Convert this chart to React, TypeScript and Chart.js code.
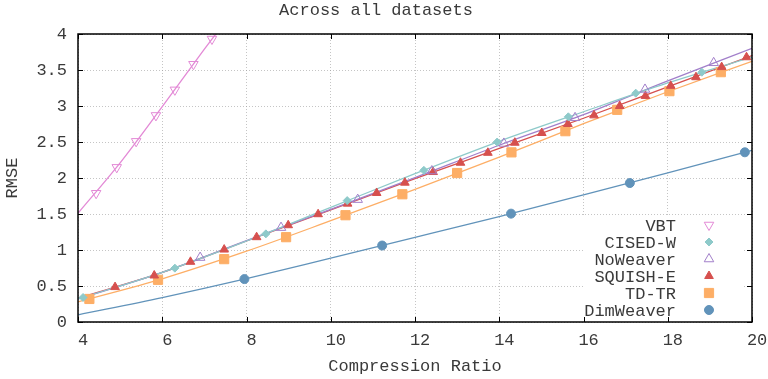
import React, { useEffect, useRef } from 'react';
import { Chart, registerables } from 'chart.js';
import { drawPoint } from 'chart.js/helpers';

Chart.register(...registerables);

const FONT = "'Liberation Mono', 'DejaVu Sans Mono', monospace";
const TEXT = '#3a3a3a';

const TITLE = 'Across all datasets';
const X_TITLE = 'Compression Ratio';
const Y_TITLE = 'RMSE';

// Smooth curves
const LINE_X = [4, 6, 8, 10, 12, 14, 16, 18, 20];
const dimLine = [0.1, 0.34, 0.603, 0.888, 1.175, 1.465, 1.765, 2.07, 2.384];
const tdtrLine = [0.28, 0.6, 0.983, 1.407, 1.842, 2.29, 2.754, 3.198, 3.62];
const squishLine = [0.33, 0.688, 1.125, 1.556, 1.99, 2.41, 2.83, 3.265, 3.7];
const noWeaverLine = [0.32, 0.69, 1.13, 1.565, 2.005, 2.455, 2.88, 3.35, 3.8];
const cisedLine = [0.32, 0.69, 1.125, 1.592, 2.06, 2.51, 2.92, 3.32, 3.68];
const VBT_LINE_X = [4, 5, 6, 7, 7.27];
const vbtLine = [1.51, 2.21, 2.99, 3.79, 4.0];

// Markers
const vbtX = [4.43, 4.92, 5.38, 5.85, 6.3, 6.74, 7.18];
const vbtY = [1.788, 2.148, 2.509, 2.869, 3.224, 3.58, 3.93];
const cisedX = [4.12, 6.3, 8.46, 10.39, 12.21, 13.95, 15.64, 17.24, 18.81];
const cisedY = [0.34, 0.748, 1.224, 1.686, 2.106, 2.499, 2.85, 3.178, 3.469];
const noWeaverX = [6.9, 8.82, 10.64, 12.4, 14.11, 15.8, 17.46, 19.09];
const noWeaverY = [0.895, 1.311, 1.7, 2.097, 2.48, 2.836, 3.23, 3.6];
const squishX = [4.88, 5.81, 6.67, 7.47, 8.24, 8.99, 9.7, 10.4, 11.09, 11.76, 12.43, 13.08, 13.73, 14.37, 15.01, 15.63, 16.25, 16.86, 17.47, 18.07, 18.67, 19.28, 19.87];
const squishY = [0.485, 0.646, 0.836, 1.006, 1.178, 1.344, 1.497, 1.644, 1.792, 1.935, 2.083, 2.212, 2.35, 2.49, 2.625, 2.75, 2.87, 3.0, 3.14, 3.28, 3.4, 3.54, 3.677];
const tdtrX = [4.27, 5.9, 7.47, 8.94, 10.35, 11.7, 13.0, 14.29, 15.57, 16.8, 18.04, 19.26];
const tdtrY = [0.32, 0.586, 0.873, 1.178, 1.483, 1.774, 2.069, 2.356, 2.65, 2.947, 3.206, 3.47];
const dimX = [7.95, 11.22, 14.28, 17.1, 19.83];
const dimY = [0.596, 1.062, 1.505, 1.93, 2.357];

const X_TICKS = [4, 6, 8, 10, 12, 14, 16, 18, 20];
const Y_TICKS = [0, 0.5, 1, 1.5, 2, 2.5, 3, 3.5, 4];

interface SeriesDef {
  name: string;
  color: string;
  style: string;
  rotation: number;
  radius: number;
  open: boolean;
  lx: number[];
  ly: number[];
  mx: number[];
  my: number[];
}

const SERIES: SeriesDef[] = [
  { name: 'VBT', color: '#e38ad6', style: 'triangle', rotation: 180, radius: 5.5, open: true, lx: VBT_LINE_X, ly: vbtLine, mx: vbtX, my: vbtY },
  { name: 'CISED-W', color: '#8ecaca', style: 'rectRot', rotation: 0, radius: 4, open: false, lx: LINE_X, ly: cisedLine, mx: cisedX, my: cisedY },
  { name: 'NoWeaver', color: '#a27fca', style: 'triangle', rotation: 0, radius: 5.5, open: true, lx: LINE_X, ly: noWeaverLine, mx: noWeaverX, my: noWeaverY },
  { name: 'SQUISH-E', color: '#d6504e', style: 'triangle', rotation: 0, radius: 5, open: false, lx: LINE_X, ly: squishLine, mx: squishX, my: squishY },
  { name: 'TD-TR', color: '#fdae66', style: 'rect', rotation: 0, radius: 6.5, open: false, lx: LINE_X, ly: tdtrLine, mx: tdtrX, my: tdtrY },
  { name: 'DimWeaver', color: '#6193ba', style: 'circle', rotation: 0, radius: 4.5, open: false, lx: LINE_X, ly: dimLine, mx: dimX, my: dimY },
];

const overlay = {
  id: 'overlay',
  afterDraw(chart: any) {
    const { ctx, chartArea: ca, scales } = chart;
    ctx.save();
    // key box (opaque)
    const boxRight = ca.right - 10;
    const boxLeft = ca.right - 169;
    const rowH = 17;
    const bottomRow = ca.bottom - 12;
    const topRow = bottomRow - rowH * (SERIES.length - 1);
    ctx.fillStyle = '#ffffff';
    ctx.fillRect(boxLeft, topRow - 8, boxRight - boxLeft, ca.bottom - (topRow - 8));
    ctx.font = `17px ${FONT}`;
    ctx.textAlign = 'right';
    ctx.textBaseline = 'middle';
    SERIES.forEach((s, i) => {
      const y = topRow + i * rowH;
      ctx.fillStyle = TEXT;
      ctx.fillText(s.name, ca.right - 76, y + 1);
      ctx.fillStyle = s.open ? '#ffffff' : s.color;
      ctx.strokeStyle = s.color;
      ctx.lineWidth = 1;
      drawPoint(ctx, { pointStyle: s.style, radius: s.radius, rotation: s.rotation, borderWidth: 1 } as any, ca.right - 43, y);
    });
    // border and inward ticks
    ctx.strokeStyle = '#000';
    ctx.lineWidth = 1.5;
    ctx.strokeRect(ca.left, ca.top, ca.right - ca.left, ca.bottom - ca.top);
    ctx.lineWidth = 1;
    ctx.beginPath();
    X_TICKS.forEach((v) => {
      const px = Math.round(scales.x.getPixelForValue(v)) + 0.5;
      ctx.moveTo(px, ca.bottom);
      ctx.lineTo(px, ca.bottom - 5);
      ctx.moveTo(px, ca.top);
      ctx.lineTo(px, ca.top + 5);
    });
    Y_TICKS.forEach((v) => {
      const py = Math.round(scales.y.getPixelForValue(v)) + 0.5;
      ctx.moveTo(ca.left, py);
      ctx.lineTo(ca.left + 5, py);
      ctx.moveTo(ca.right, py);
      ctx.lineTo(ca.right - 5, py);
    });
    ctx.stroke();
    ctx.restore();
  },
};

export default function App() {
  const ref = useRef<HTMLCanvasElement | null>(null);
  useEffect(() => {
    if (!ref.current) return;
    const datasets: any[] = [];
    SERIES.forEach((s) => {
      datasets.push({
        type: 'scatter',
        label: s.name,
        data: s.mx.map((x, i) => ({ x, y: s.my[i] })),
        showLine: false,
        pointStyle: s.style,
        rotation: s.rotation,
        pointRadius: s.radius,
        pointBorderWidth: 1,
        pointBorderColor: s.color,
        pointBackgroundColor: s.open ? 'rgba(255,255,255,0)' : s.color,
        clip: false,
        order: 1,
      });
      datasets.push({
        type: 'line',
        label: s.name + ' curve',
        data: s.lx.map((x, i) => ({ x, y: s.ly[i] })),
        borderColor: s.color,
        borderWidth: 1.3,
        pointRadius: 0,
        fill: false,
        cubicInterpolationMode: 'monotone',
        order: 2,
      });
    });
    const chart = new Chart(ref.current, {
      type: 'scatter',
      data: { datasets },
      options: {
        responsive: false,
        animation: false,
        events: [],
        layout: { padding: { left: 0, right: 16, top: 0, bottom: 2 } },
        plugins: {
          legend: { display: false },
          tooltip: { enabled: false },
          title: {
            display: true,
            text: TITLE,
            color: TEXT,
            font: { family: FONT, size: 17, weight: 'normal' },
            padding: { top: 0, bottom: 13.6 },
          },
        },
        scales: {
          x: {
            type: 'linear',
            min: 4,
            max: 20,
            afterBuildTicks: (scale: any) => {
              scale.ticks = X_TICKS.map((v) => ({ value: v }));
            },
            afterFit: (scale: any) => {
              scale.height = 55;
              scale.paddingLeft = 0;
              scale.paddingRight = 0;
            },
            ticks: { color: TEXT, font: { family: FONT, size: 17 }, padding: 8, maxRotation: 0, callback: (v: any) => ' ' + String(v) },
            grid: { color: 'rgba(150,150,150,0.55)', drawTicks: false, lineWidth: 1 },
            border: { display: false, dash: [1, 2] },
            title: { display: true, text: X_TITLE, color: TEXT, font: { family: FONT, size: 17 }, padding: { top: 0, bottom: 0 } },
          },
          y: {
            type: 'linear',
            min: 0,
            max: 4,
            afterBuildTicks: (scale: any) => {
              scale.ticks = Y_TICKS.map((v) => ({ value: v }));
            },
            afterFit: (scale: any) => {
              scale.width = 78;
            },
            ticks: { color: TEXT, font: { family: FONT, size: 17 }, padding: 11, callback: (v: any) => String(v) },
            grid: { color: 'rgba(150,150,150,0.55)', drawTicks: false, lineWidth: 1 },
            border: { display: false, dash: [1, 2] },
            title: { display: true, text: Y_TITLE, color: TEXT, font: { family: FONT, size: 17 }, padding: { top: 2, bottom: 0 } },
          },
        },
      },
      plugins: [overlay],
    } as any);
    return () => chart.destroy();
  }, []);
  return (
    <div style={{ position: 'fixed', left: 0, top: 0, width: 768, height: 379, background: '#fff' }}>
      <canvas ref={ref} width={768} height={379} style={{ width: 768, height: 379, display: 'block' }} />
    </div>
  );
}
